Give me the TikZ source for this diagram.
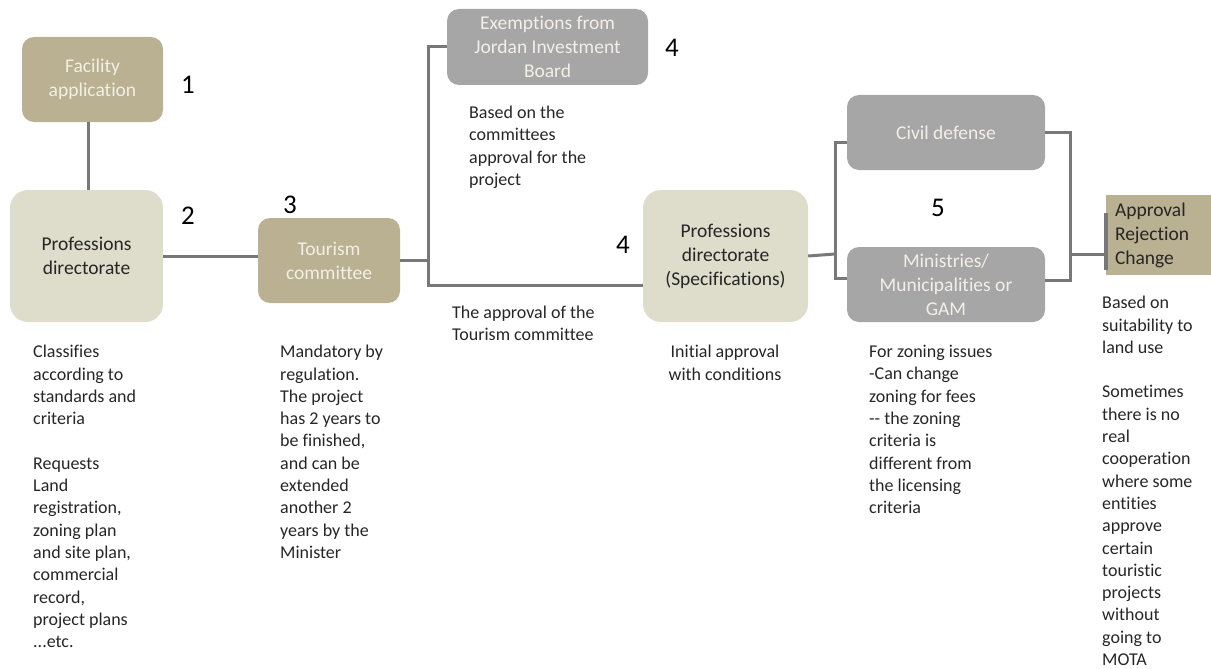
\documentclass[tikz,border=0pt]{standalone}
\usepackage{fontspec}
\setmainfont{Carlito}[Ligatures=NoCommon]
\usetikzlibrary{calc}
\definecolor{tanbox}{RGB}{186,177,146}
\definecolor{beigebox}{RGB}{222,220,203}
\definecolor{greybox}{RGB}{166,166,166}
\definecolor{wire}{RGB}{120,120,120}
\definecolor{paletext}{RGB}{242,240,230}
\definecolor{inktext}{RGB}{38,38,38}
\tikzset{
  box/.style={rectangle, rounded corners=12pt, inner sep=2pt, align=center,
    font=\fontsize{19.5}{24}\selectfont},
  tanfill/.style={box, fill=tanbox, text=paletext},
  beigefill/.style={box, fill=beigebox, text=inktext, rounded corners=18pt},
  greyfill/.style={box, fill=greybox, text=paletext},
  note/.style={anchor=north west, inner sep=0pt, align=left, text=inktext,
    font=\fontsize{18}{22.3}\selectfont},
  stepnum/.style={inner sep=0pt, font=\fontsize{27}{30}\selectfont},
  conn/.style={draw=wire, line width=3pt}
}
\begin{document}
\begin{tikzpicture}[x=1pt, y=-1pt]
\useasboundingbox (0,0) rectangle (1211,669);

% process boxes
\node[tanfill, minimum width=141pt, minimum height=85pt] (fac) at (92.5,79.5) {Facility\\application};
\node[beigefill, minimum width=153pt, minimum height=132pt] (prof) at (86.5,256) {Professions\\directorate};
\node[tanfill, minimum width=142pt, minimum height=85pt] (tour) at (329,260.5) {Tourism\\committee};
\node[greyfill, minimum width=201pt, minimum height=76pt] (exem) at (547.5,47) {Exemptions from\\Jordan Investment\\Board};
\node[beigefill, minimum width=165pt, minimum height=132pt] (spec) at (725.5,256) {Professions\\directorate\\(Specifications)};
\node[greyfill, minimum width=198pt, minimum height=75pt] (civ) at (946,132.5) {Civil defense};
\node[greyfill, minimum width=198pt, minimum height=75pt] (min) at (946,284.5) {Ministries/\\Municipalities or\\GAM};
\node[box, rounded corners=0pt, fill=tanbox, text=inktext, align=left,
      minimum width=108pt, minimum height=80pt, text width=94pt, inner sep=0pt] (appr) at (1160,235)
      {\hspace*{2pt}Approval\\\hspace*{2pt}Rejection\\\hspace*{2pt}Change};
\draw[wire, line width=3.5pt] ($(appr.north west)+(0,18)$) -- ($(appr.south west)+(0,-5)$);

% step numbers
\node[stepnum] (n1) at (188,85) {1};
\node[stepnum] (n2) at (188,216) {2};
\node[stepnum] (n3) at (290,205) {3};
\node[stepnum] (n4a) at (672,48) {4};
\node[stepnum] (n4b) at (623,245) {4};
\node[stepnum] (n5) at (938,208) {5};

% junction points
\coordinate (jt) at (428,257);
\coordinate (jb) at (428,285);
\coordinate (lb) at (835,254);
\coordinate (rb) at (1070,254);

% connectors
\draw[conn] (fac.south -| 88,0) -- (prof.north -| 88,0);
\draw[conn] (prof.east) -- (prof.east -| tour.west);
\draw[conn] (tour.east) -- (tour.east -| jt);
\draw[conn] (exem.west) -| (jb) -- (jb -| spec.west);
\draw[conn] (spec.east) -- (lb);
\draw[conn] ($(civ.west)+(0,10)$) -| (lb) |- ($(min.west)+(0,-6)$);
\draw[conn] (civ.east) -| (rb) |- ($(min.east)+(0,-4)$);
\draw[conn] (rb) -- (rb -| appr.west);

% notes
\node[note] (t1) at (33,345) {Classifies\\according to\\standards and\\criteria\\[22.3pt]Requests\\Land\\registration,\\zoning plan\\and site plan,\\commercial\\record,\\project plans\\...etc.};
\node[note] (t2) at (280,345) {Mandatory by\\regulation.\\The project\\has 2 years to\\be finished,\\and can be\\extended\\another 2\\years by the\\Minister};
\node[note] (t3) at (469,106) {Based on the\\committees\\approval for the\\project};
\node[note] (t4) at (452,306) {The approval of the\\Tourism committee};
\node[note, anchor=north, align=center] (t5) at (725,345) {Initial approval\\with conditions};
\node[note] (t6) at (869,345) {For zoning issues\\-Can change\\zoning for fees\\-{}- the zoning\\criteria is\\different from\\the licensing\\criteria};
\node[note] (t7) at (1102,296) {Based on\\suitability to\\land use\\[22.3pt]Sometimes\\there is no\\real\\cooperation\\where some\\entities\\approve\\certain\\touristic\\projects\\without\\going to\\MOTA};
\end{tikzpicture}
\end{document}
